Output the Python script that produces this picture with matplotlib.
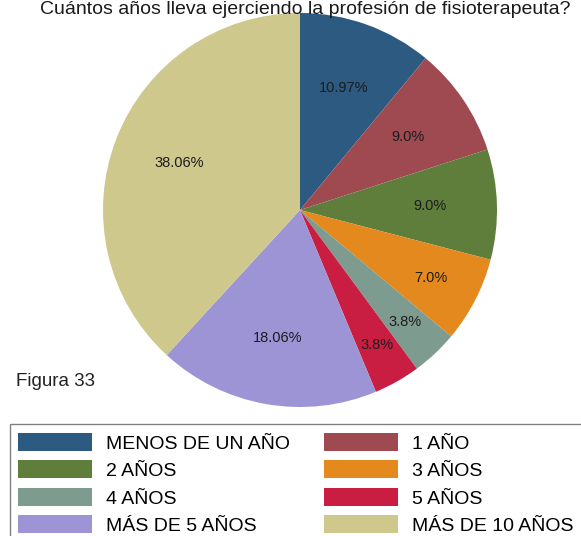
import matplotlib
matplotlib.use("Agg")
import matplotlib.pyplot as plt
from matplotlib.patches import Rectangle
import numpy as np

plt.rcParams['font.family'] = ['Liberation Sans', 'DejaVu Sans']

# Survey answers (percent of respondents)
categories = ["MENOS DE UN AÑO", "1 AÑO", "2 AÑOS", "3 AÑOS",
              "4 AÑOS", "5 AÑOS", "MÁS DE 5 AÑOS", "MÁS DE 10 AÑOS"]
percentages = [10.97, 9.0, 9.0, 7.0, 3.8, 3.8, 18.06, 38.06]

colors = ["#2D5A80", "#9E4A50", "#5F7E3C", "#E3891E",
          "#7E9B8F", "#C91E41", "#9D94D6", "#CEC88D"]
# radial placement of the percentage text, as a fraction of the radius
label_radius = [0.66, 0.66, 0.66, 0.75, 0.78, 0.79, 0.66, 0.66]

W, H = 581, 536
fig = plt.figure(figsize=(W / 100, H / 100), dpi=100)

cx, cy, r = 300, 210, 197
ax = fig.add_axes([(cx - r) / W, (H - cy - r) / H, 2 * r / W, 2 * r / H])
wedges, _ = ax.pie(percentages, colors=colors, startangle=90, counterclock=False,
                   radius=1.0, wedgeprops=dict(linewidth=0))
ax.set_xlim(-1, 1)
ax.set_ylim(-1, 1)
ax.set_aspect('equal')
ax.axis('off')

for w, pct, lr in zip(wedges, percentages, label_radius):
    ang = np.deg2rad((w.theta1 + w.theta2) / 2)
    ax.text(lr * np.cos(ang), lr * np.sin(ang), f"{pct}%",
            ha='center', va='center', fontsize=10.5, color='#1c1c1c')

fig.text(305.5 / W, 1 - 14 / H, "Cuántos años lleva ejerciendo la profesión de fisioterapeuta?",
         ha='center', va='baseline', fontsize=14, color='#1a1a1a')
fig.text(16 / W, 1 - 381 / H, "Figura 33", ha='left', va='center',
         fontsize=13.5, color='#222222')

# legend frame, running off the right and bottom edges
fig.patches.append(Rectangle((10 / W, -0.05), 1.0, (H - 424) / H + 0.05,
                             transform=fig.transFigure, fill=False,
                             edgecolor='#808080', linewidth=1.0))

order = [0, 2, 4, 6, 1, 3, 5, 7]
leg = fig.legend([wedges[i] for i in order], [categories[i] for i in order],
                 ncol=2, loc='upper left',
                 bbox_to_anchor=(18 / W, 1 - 433 / H),
                 borderaxespad=0, fontsize=14,
                 handlelength=3.8, handleheight=1.05, handletextpad=0.72,
                 labelspacing=0.4, columnspacing=1.75, borderpad=0,
                 frameon=False)

fig.savefig("out.png", dpi=100)
